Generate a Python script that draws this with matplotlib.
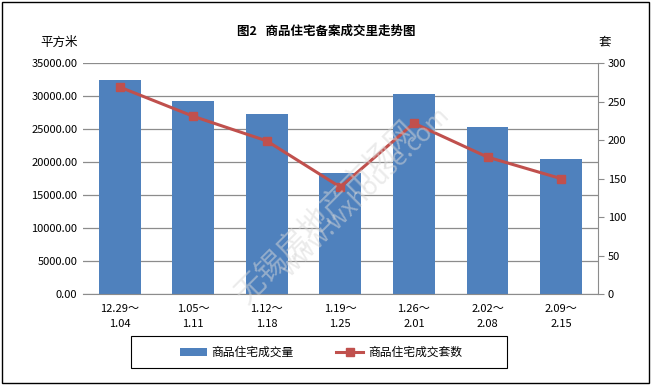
import numpy as np
import matplotlib
matplotlib.use("Agg")
from matplotlib import pyplot as plt
from matplotlib.patches import Rectangle

plt.rcParams['font.family'] = ['Noto Sans CJK SC', 'DejaVu Sans']

periods = ["12.29～\n1.04", "1.05～\n1.11", "1.12～\n1.18", "1.19～\n1.25",
           "1.26～\n2.01", "2.02～\n2.08", "2.09～\n2.15"]
area = [32420, 29240, 27270, 18430, 30300, 25400, 20450]
units = [269, 231, 199, 139, 222, 178, 150]

fig = plt.figure(figsize=(6.52, 3.85), dpi=100)
ax = fig.add_axes([0.127, 0.236, 0.79, 0.6])
x = np.arange(len(periods))

ax.bar(x, area, width=0.57, color='#4F81BD', zorder=2, label='商品住宅成交量')
ax.set_ylim(0, 35000)
ax.set_yticks(np.arange(0, 35001, 5000))
ax.set_yticklabels(["%.2f" % v for v in np.arange(0, 35001, 5000)], fontsize=8)
ax.set_xlim(-0.5, len(periods) - 0.5)
ax.set_xticks(x)
ax.set_xticklabels(periods, fontsize=8, linespacing=1.7)
ax.tick_params(axis='x', length=0, pad=7)
ax.tick_params(axis='y', length=0, pad=4)
ax.grid(axis='y', color='#8c8c8c', linewidth=0.9, zorder=0)
for s in ['top', 'left', 'right']:
    ax.spines[s].set_visible(False)
ax.spines['bottom'].set_color('#8c8c8c')

ax2 = ax.twinx()
ax2.plot(x, units, color='#C0504D', linewidth=2.2, marker='s', markersize=6,
         label='商品住宅成交套数', zorder=3)
ax2.set_ylim(0, 300)
ax2.set_yticks(np.arange(0, 301, 50))
ax2.tick_params(axis='y', labelsize=8, length=4, color='#8c8c8c', pad=3)
for s in ['top', 'left', 'bottom']:
    ax2.spines[s].set_visible(False)
ax2.spines['right'].set_color('#8c8c8c')

fig.text(0.5, 0.92, "图2   商品住宅备案成交里走势图", ha='center', va='center',
         fontsize=9, fontweight='bold')
fig.text(0.09, 0.89, "平方米", ha='center', va='center', fontsize=9)
fig.text(0.928, 0.89, "套", ha='center', va='center', fontsize=9)

# watermark
fig.text(0.5, 0.45, "无锡房地产市场网", rotation=45, ha='center', va='center',
         fontsize=22, color='#d8d8d8', alpha=0.5, zorder=10)
fig.text(0.56, 0.5, "www.wxhouse.com", rotation=45, ha='center', va='center',
         fontsize=18, color='#d8d8d8', alpha=0.5, zorder=10)

h1, l1 = ax.get_legend_handles_labels()
h2, l2 = ax2.get_legend_handles_labels()
leg = fig.legend(h1 + h2, l1 + l2, loc='center', bbox_to_anchor=(0.492, 0.085),
                 ncol=2, fontsize=8.5, frameon=False, handlelength=2.3,
                 handletextpad=0.4, columnspacing=3.6)

# legend box
fig.patches.append(Rectangle((0.201, 0.044), 0.577, 0.083, transform=fig.transFigure,
                             fill=False, edgecolor='black', linewidth=0.8))
# outer border
fig.patches.append(Rectangle((0.003, 0.004), 0.992, 0.99, transform=fig.transFigure,
                             fill=False, edgecolor='black', linewidth=1))

fig.savefig("out.png", dpi=100)
